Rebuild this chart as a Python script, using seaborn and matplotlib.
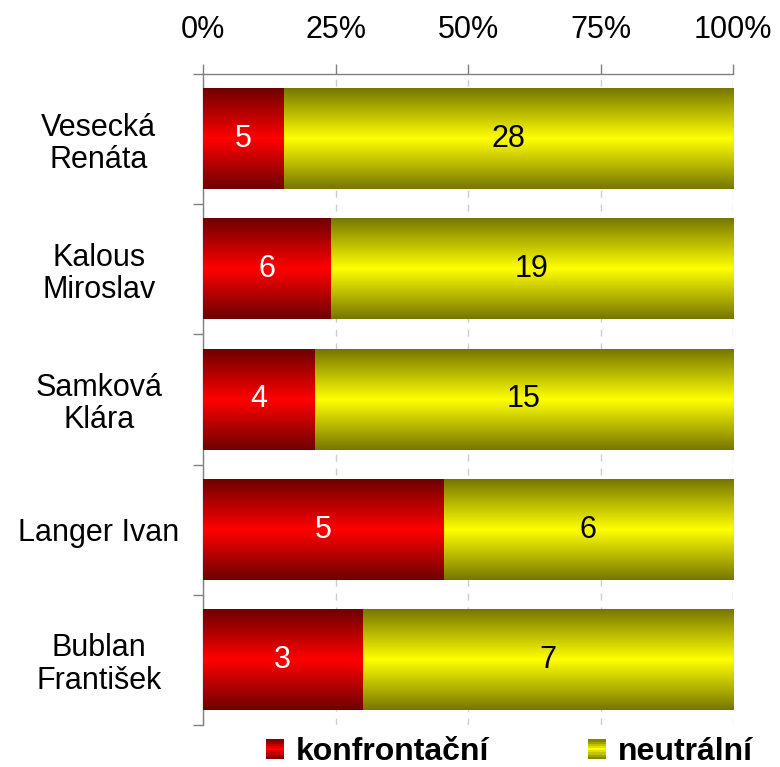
import numpy as np
import pandas as pd
import seaborn as sns
import matplotlib.pyplot as plt
from matplotlib.colors import LinearSegmentedColormap
from matplotlib.patches import Rectangle
from matplotlib.legend_handler import HandlerBase
from matplotlib.ticker import FixedLocator

# Data
names = ["Vesecká\nRenáta", "Kalous\nMiroslav", "Samková\nKlára", "Langer Ivan", "Bublan\nFrantišek"]
konfrontacni = [5, 6, 4, 5, 3]
neutralni = [28, 19, 15, 6, 7]
series_names = ["konfrontační", "neutrální"]
x_ticks = [0, 25, 50, 75, 100]
x_ticklabels = ["0%", "25%", "50%", "75%", "100%"]

RED = ("#6e0000", "#ff0000")
YEL = ("#767600", "#ffff00")
FS = 22


def gradient_cmap(dark, bright):
    """Dark - bright - dark vertical shading."""
    return LinearSegmentedColormap.from_list("g", [dark, bright, dark])


class GradientHandler(HandlerBase):
    """Legend square with horizontal stripes of the gradient."""
    def __init__(self, cmap):
        super().__init__()
        self.cmap = cmap

    def create_artists(self, legend, orig, xd, yd, w, h, fontsize, trans):
        n = 9
        arts = []
        for i in range(n):
            r = Rectangle((-xd, -yd + h * i / n), w, h / n,
                          facecolor=self.cmap((i + 0.5) / n), edgecolor="none",
                          transform=trans)
            arts.append(r)
        return arts


df = pd.DataFrame({"name": names, "k": konfrontacni, "n": neutralni})
df["pk"] = df["k"] / (df["k"] + df["n"]) * 100
df["pall"] = 100.0

sns.set_theme(style="white")
plt.rcParams["font.family"] = ["Liberation Sans", "DejaVu Sans"]
plt.rcParams["text.color"] = "black"

rcmap = gradient_cmap(*RED)
ycmap = gradient_cmap(*YEL)

fig = plt.figure(figsize=(7.8, 7.67), dpi=100)
ax = fig.add_axes([0.2603, 0.0548, 0.6795, 0.8487])
sns.barplot(data=df, y="name", x="pall", orient="h", width=0.77, color=YEL[1], ax=ax)
n_yel = len(ax.patches)
sns.barplot(data=df, y="name", x="pk", orient="h", width=0.77, color=RED[1], ax=ax)

# replace flat fills with vertical gradients
grad = np.linspace(0, 1, 256).reshape(-1, 1)
for i, p in enumerate(list(ax.patches)):
    x0, y0 = p.get_x(), p.get_y()
    w, h = p.get_width(), p.get_height()
    red = i >= n_yel
    ax.imshow(grad, extent=[x0, x0 + w, y0 + h, y0], cmap=rcmap if red else ycmap,
              aspect="auto", interpolation="bilinear", zorder=3 if red else 2)
    p.set_visible(False)

for i, row in df.iterrows():
    ax.text(row["pk"] / 2, i, str(row["k"]), color="white", ha="center", va="center",
            fontsize=FS, zorder=5)
    ax.text(row["pk"] + (100 - row["pk"]) / 2, i, str(row["n"]), color="black",
            ha="center", va="center", fontsize=FS, zorder=5)

ax.set_xlim(0, 100)
ax.set_ylim(4.5, -0.5)
ax.set_xlabel("")
ax.set_ylabel("")

ax.xaxis.tick_top()
ax.set_xticks(x_ticks)
ax.set_xticklabels(x_ticklabels)
ax.tick_params(axis="x", top=True, bottom=False, length=7, width=1, color="#808080",
               pad=14, labelsize=FS, labelcolor="black")
ax.yaxis.set_minor_locator(FixedLocator(np.arange(-0.5, 5, 1)))
ax.tick_params(axis="y", which="minor", left=True, length=7, width=1, color="#808080")
ax.tick_params(axis="y", which="major", left=False, length=0, pad=75, labelsize=FS,
               labelcolor="black")
for lab in ax.get_yticklabels():
    lab.set_horizontalalignment("center")
    lab.set_multialignment("center")
    lab.set_linespacing(1.1)

for s in ["right", "bottom"]:
    ax.spines[s].set_visible(False)
for s in ["top", "left"]:
    ax.spines[s].set_visible(True)
    ax.spines[s].set_color("#808080")
    ax.spines[s].set_linewidth(1)

ax.grid(axis="x", linestyle=(0, (5, 5)), color="#cccccc", linewidth=1)
ax.grid(axis="y", visible=False)
ax.set_axisbelow(True)

handles = [Rectangle((0, 0), 1, 1), Rectangle((0, 0), 1, 1)]
fig.legend(handles, series_names, loc="center", bbox_to_anchor=(0.653, 0.019), ncol=2,
           frameon=False, labelcolor="black",
           handler_map={handles[0]: GradientHandler(rcmap), handles[1]: GradientHandler(ycmap)},
           prop={"weight": "bold", "size": 23}, handlelength=0.56, handleheight=0.56,
           handletextpad=0.37, columnspacing=3.1, borderpad=0, borderaxespad=0)

plt.savefig("out.png", dpi=100)
plt.close()
